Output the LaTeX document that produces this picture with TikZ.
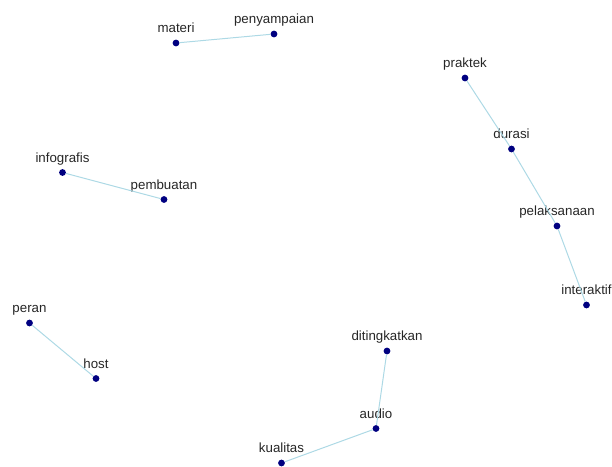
\documentclass[tikz,border=0pt]{standalone}
\usepackage{fontspec}
\setmainfont{Liberation Sans}
\usepackage{tikz}
\usetikzlibrary{positioning}
\definecolor{navytitik}{rgb}{0.0, 0.0, 0.50}
\definecolor{birumuda}{rgb}{0.68, 0.85, 0.90}
\tikzset{
  titik/.style={
    circle,
    fill=navytitik,
    inner sep=0pt,
    minimum size=6.8pt
  },
  kata/.style={
    anchor=base,
    inner sep=0pt,
    text=black!85,
    font=\fontsize{13.3}{16}\selectfont
  },
  garis/.style={
    birumuda,
    line width=1pt
  }
}

\begin{document}
\begin{tikzpicture}[x=1pt, y=-1pt, label distance=6.6pt]
\useasboundingbox (0,0) rectangle (612,466);
\node[titik, label={[kata]90:materi}] (materi) at (176,43) {};
\node[titik, label={[kata]90:penyampaian}] (penyampaian) at (274,34) {};
\node[titik, label={[kata]90:praktek}] (praktek) at (465,78) {};
\node[titik, label={[kata]90:durasi}] (durasi) at (511.5,149) {};
\node[titik, label={[kata]90:pelaksanaan}] (pelaksanaan) at (557,226) {};
\node[titik, label={[kata]90:interaktif}] (interaktif) at (586.5,305) {};
\node[titik, label={[kata]90:infografis}] (infografis) at (62.5,172.5) {};
\node[titik, label={[kata]90:pembuatan}] (pembuatan) at (164,199.5) {};
\node[titik, label={[kata]90:peran}] (peran) at (29.5,323) {};
\node[titik, label={[kata]90:host}] (host) at (96,378.5) {};
\node[titik, label={[kata]90:ditingkatkan}] (ditingkatkan) at (387,351) {};
\node[titik, label={[kata]90:audio}] (audio) at (376,428.5) {};
\node[titik, label={[kata]90:kualitas}] (kualitas) at (281.5,463) {};
\draw[garis] (materi) -- (penyampaian);
\draw[garis] (praktek) -- (durasi);
\draw[garis] (durasi) -- (pelaksanaan);
\draw[garis] (pelaksanaan) -- (interaktif);
\draw[garis] (infografis) -- (pembuatan);
\draw[garis] (peran) -- (host);
\draw[garis] (ditingkatkan) -- (audio);
\draw[garis] (audio) -- (kualitas);
\end{tikzpicture}
\end{document}
